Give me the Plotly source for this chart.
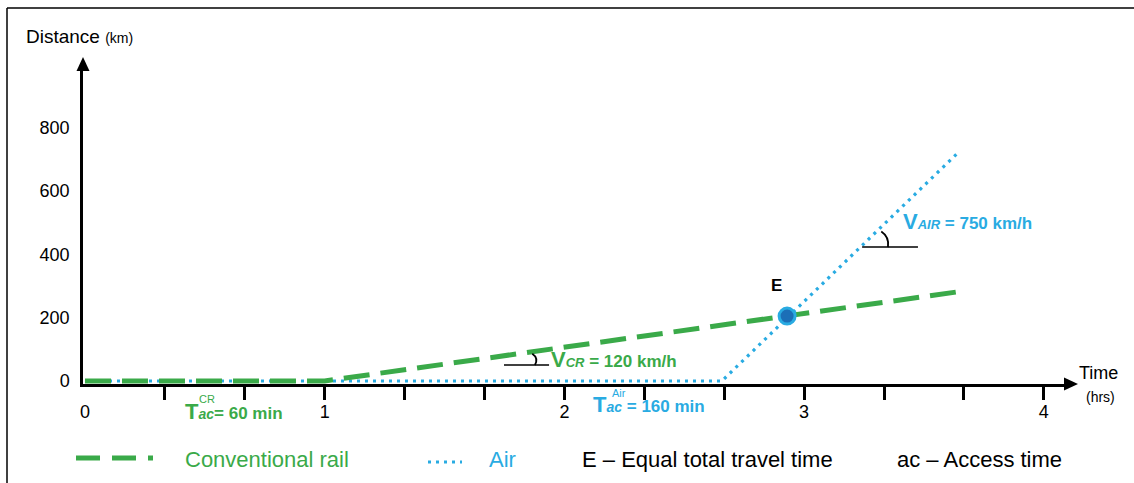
import plotly.graph_objects as go

# ---------------- data ----------------
rail_time = [0, 1.0, 3.663]          # hours
rail_dist = [0, 0, 284]              # km
air_time = [0, 2.657, 3.65]
air_dist = [0, 0, 727]
eq_time = [2.929]
eq_dist = [205]
x_label_vals = [0, 1, 2, 3, 4]
x_label_text = ["0", "1", "2", "3", "4"]
x_tick_vals = [i / 3 for i in range(1, 13)]
y_tick_vals = [0, 200, 400, 600, 800]
y_tick_text = ["0", "200", "400", "600", "800"]
legend_labels = ["Conventional rail", "Air", "E \u2013 Equal total travel time", "ac \u2013 Access time"]

GREEN = "#3AAA49"
BLUE = "#29ABE2"
DARK = "#1C6FB7"
FONT = "Liberation Sans, Arial, sans-serif"

W, H = 1134, 483
L, R, T, B = 83, 1065, 70, 384   # plot area in pixels
XR = [-0.0083, 4.0884]
YR = [-9.5, 982.6]


def px(x):
    return (x - L) / (R - L)


def py(y):
    return (B - y) / (B - T)


fig = go.Figure()

fig.add_trace(go.Scatter(x=air_time, y=air_dist, mode="lines",
                         line=dict(color=BLUE, width=3.2, dash="3px,5px"),
                         hoverinfo="skip", showlegend=False))
fig.add_trace(go.Scatter(x=rail_time, y=rail_dist, mode="lines",
                         line=dict(color=GREEN, width=5, dash="26px,11px"),
                         hoverinfo="skip", showlegend=False))
fig.add_trace(go.Scatter(x=eq_time, y=eq_dist, mode="markers",
                         marker=dict(size=16, color=DARK, line=dict(color=BLUE, width=3)),
                         hoverinfo="skip", showlegend=False))
# invisible trace to carry the label axis
fig.add_trace(go.Scatter(x=[0], y=[0], xaxis="x2", mode="markers",
                         marker=dict(opacity=0), hoverinfo="skip", showlegend=False))

fig.update_layout(
    width=W, height=H,
    margin=dict(l=L, r=W - R, t=T, b=H - B, pad=0),
    paper_bgcolor="white", plot_bgcolor="white",
    font=dict(family=FONT, color="black"),
    xaxis=dict(range=XR, showgrid=False, zeroline=False, showline=True,
               linecolor="black", linewidth=2.5,
               tickmode="array", tickvals=x_tick_vals, ticks="outside",
               ticklen=13, tickwidth=2.5, tickcolor="black",
               showticklabels=False, fixedrange=True),
    xaxis2=dict(range=XR, overlaying="x", side="bottom", showgrid=False,
                zeroline=False, showline=False, tickmode="array",
                tickvals=x_label_vals, ticktext=x_label_text, ticks="",
                ticklabelstandoff=15, tickfont=dict(size=18, color="black"),
                fixedrange=True),
    yaxis=dict(range=YR, showgrid=False, zeroline=False, showline=True,
               linecolor="black", linewidth=2.5, tickmode="array",
               tickvals=y_tick_vals, ticktext=y_tick_text, ticks="",
               ticklabelstandoff=7, tickfont=dict(size=18, color="black"),
               fixedrange=True),
)


def tri(points):
    p = " L ".join(f"{px(a):.5f},{py(b):.5f}" for a, b in points)
    return "M " + p + " Z"


shapes = []
# arrowheads on the axes
shapes.append(dict(type="path", xref="paper", yref="paper",
                   path=tri([(76.5, 71), (89.5, 71), (83, 57)]),
                   fillcolor="black", line=dict(width=0)))
shapes.append(dict(type="path", xref="paper", yref="paper",
                   path=tri([(1064, 377.5), (1064, 390.5), (1078, 384)]),
                   fillcolor="black", line=dict(width=0)))
# angle marks
shapes.append(dict(type="line", xref="x", yref="y", x0=1.748, x1=1.936, y0=50.6, y1=50.6,
                   line=dict(color="black", width=1.5)))
shapes.append(dict(type="path", xref="x", yref="y",
                   path="M 1.866,86 Q 1.893,72 1.877,50.6",
                   line=dict(color="black", width=1.8)))
shapes.append(dict(type="line", xref="x", yref="y", x0=3.242, x1=3.475, y0=423, y1=423,
                   line=dict(color="black", width=1.5)))
shapes.append(dict(type="path", xref="x", yref="y",
                   path="M 3.322,472 Q 3.356,455 3.35,423",
                   line=dict(color="black", width=1.8)))
# frame lines
shapes.append(dict(type="line", xref="paper", yref="paper", x0=px(7), x1=px(1134),
                   y0=py(8), y1=py(8), line=dict(color="black", width=1.5)))
shapes.append(dict(type="line", xref="paper", yref="paper", x0=px(7), x1=px(7),
                   y0=py(8), y1=py(483), line=dict(color="black", width=1.5)))
# legend samples
shapes.append(dict(type="line", xref="paper", yref="paper", x0=px(76), x1=px(153),
                   y0=py(458), y1=py(458), line=dict(color=GREEN, width=5, dash="24px,12px")))
shapes.append(dict(type="line", xref="paper", yref="paper", x0=px(428), x1=px(462),
                   y0=py(462), y1=py(462), line=dict(color=BLUE, width=3.2, dash="3px,5px")))
fig.update_layout(shapes=shapes)

ann = []


def text(x, y, s, size=18, color="black", xanchor="left", xref="paper", yref="paper"):
    ann.append(dict(x=x, y=y, xref=xref, yref=yref, text=s, showarrow=False,
                    xanchor=xanchor, yanchor="middle",
                    font=dict(size=size, color=color, family=FONT)))


text(px(24), py(36), "Distance <span style='font-size:14px'>(km)</span>", 19)
text(px(1077), py(373), "Time", 18)
text(px(1084), py(397), "(hrs)", 14)
text(2.883, 303, "<b>E</b>", 17, xref="x", yref="y", xanchor="center")
text(1.935, 68, "<b><span style='font-size:22px'>V</span><i><span style='font-size:13px'>CR</span></i> = 120 km/h</b>",
     17, GREEN, xref="x", yref="y")
text(3.404, 503, "<b><span style='font-size:22px'>V</span><i><span style='font-size:13px'>AIR</span></i> = 750 km/h</b>",
     17, BLUE, xref="x", yref="y")
text(px(183), py(411), "<b><span style='font-size:22px'>T</span><i><span style='font-size:14px'>ac</span></i>= 60 min</b>",
     17, GREEN)
text(px(207), py(399), "CR", 11, GREEN, xanchor="center")
text(px(591), py(404), "<b><span style='font-size:22px'>T</span><i><span style='font-size:14px'>ac</span></i> = 160 min</b>",
     17, BLUE)
text(px(619), py(393), "Air", 11, BLUE, xanchor="center")

legend_x = [183, 487, 580, 895]
legend_col = [GREEN, BLUE, "black", "black"]
for lx, lab, col in zip(legend_x, legend_labels, legend_col):
    text(px(lx), py(459), lab, 22, col)

fig.update_layout(annotations=ann)

fig.write_html("out.html", config={"displayModeBar": False},
               post_script="document.body.style.margin='0';")
